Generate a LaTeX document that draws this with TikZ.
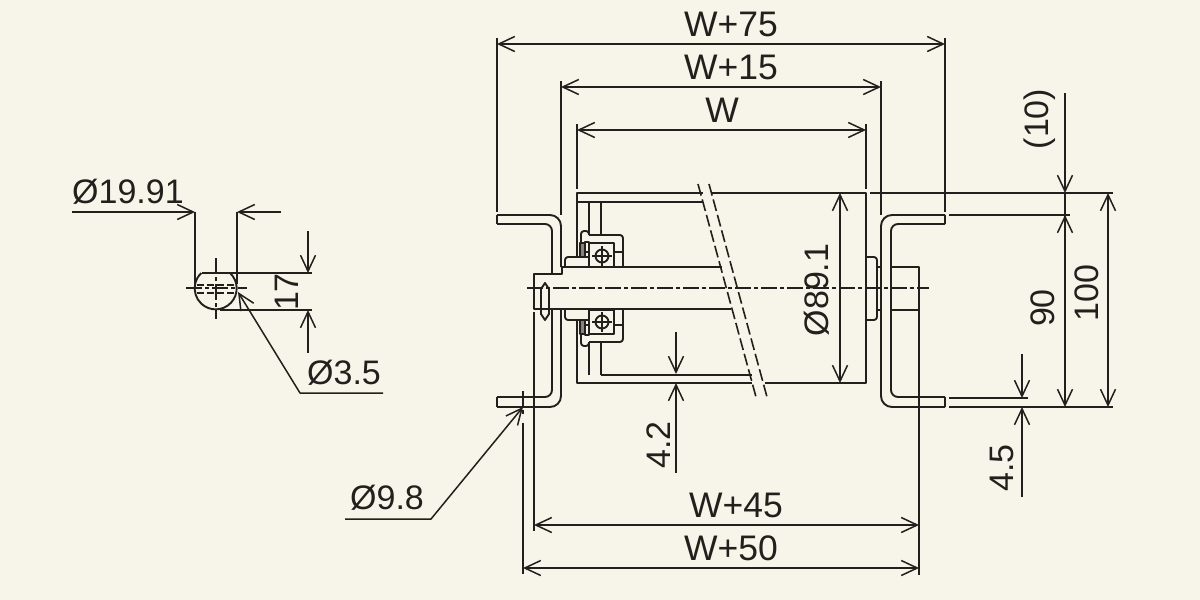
\documentclass[tikz,border=0pt]{standalone}
\usepackage{fontspec}
\setmainfont{Liberation Sans}
\usetikzlibrary{arrows.meta}
\definecolor{paper}{HTML}{F7F4EA}
\definecolor{ink}{HTML}{231F1C}
\tikzset{
  thin line/.style={line width=1.5pt,color=ink},
  part line/.style={line width=1.9pt,color=ink},
  dim line/.style={line width=1.5pt,color=ink,<->},
  lead line/.style={line width=1.5pt,color=ink,->},
  axis line/.style={line width=1.4pt,color=ink,dash pattern=on 16pt off 3pt on 4pt off 3pt},
  hidden line/.style={line width=1.6pt,color=ink,dash pattern=on 12pt off 4pt},
  dim text/.style={inner sep=0pt,color=ink,font=\fontsize{34}{36}\selectfont},
  wide text/.style={inner sep=0pt,color=ink,font=\fontsize{35.5}{38}\selectfont}
}
\begin{document}
\begin{tikzpicture}[line cap=butt,line join=round,>={Straight Barb[length=16pt,width=15pt]},x=1pt,y=-1pt]
\fill [paper] (0,0) rectangle (1200,600);
\useasboundingbox (0,0) rectangle (1200,600);
% brackets
\draw [part line,rounded corners=11pt] (497,215)-- (561,215)-- (561,267);
\draw [part line,rounded corners=11pt] (561,309)-- (561,407)-- (497,407);
\draw [part line,rounded corners=7pt] (497,224)-- (552,224)-- (552,274);
\draw [part line,rounded corners=7pt] (552,309)-- (552,397)-- (497,397);
\draw [part line] (497,215)-- (497,224);
\draw [part line] (497,397)-- (497,407);
\draw [part line,rounded corners=11pt] (945,215)-- (881,215)-- (881,407)-- (945,407);
\draw [part line,rounded corners=7pt] (945,224)-- (891,224)-- (891,397)-- (945,397);
\draw [part line] (945,215)-- (945,224);
\draw [part line] (945,397)-- (945,407);
% roller body
\draw [part line] (577,257)-- (577,193)-- (703,193);
\draw [part line] (577,320)-- (577,383)-- (752,383);
\draw [part line] (712,193)-- (866,193)-- (866,383)-- (765,383);
\draw [part line] (577,202)-- (703,202);
\draw [part line] (601,375)-- (752,375);
\draw [hidden line] (698,184)-- (756,397);
\draw [hidden line] (709,184)-- (767,397);
% upper bearing
\draw [part line] (589,202)-- (589,235);
\draw [part line] (601,202)-- (601,235);
\draw [part line,rounded corners=3pt] (589,235)-- (589,231)-- (581,231)-- (581,244);
\draw [part line,rounded corners=3pt] (589,235)-- (623,235)-- (623,267);
\draw [part line] (589,243) rectangle (614,267);
\draw [part line] (602,256) circle (6.5);
\draw [thin line] (592,256)-- (612,256);
\draw [thin line] (602,246)-- (602,266);
\draw [part line,fill=ink!55] (580,243) rectangle (585,257);
\draw [part line] (585,242) rectangle (589,252);
\draw [part line,rounded corners=3pt] (589,257)-- (565,257)-- (565,267);
\draw [part line] (614,252)-- (623,252);
% lower bearing
\draw [part line] (589,375)-- (589,342);
\draw [part line] (601,375)-- (601,342);
\draw [part line,rounded corners=3pt] (589,342)-- (589,346)-- (581,346)-- (581,333);
\draw [part line,rounded corners=3pt] (589,342)-- (623,342)-- (623,310);
\draw [part line] (589,310) rectangle (614,334);
\draw [part line] (602,322) circle (6.5);
\draw [thin line] (592,322)-- (612,322);
\draw [thin line] (602,312)-- (602,332);
\draw [part line,fill=ink!55] (580,320) rectangle (585,334);
\draw [part line] (585,325) rectangle (589,335);
\draw [part line,rounded corners=3pt] (589,320)-- (565,320)-- (565,310);
\draw [part line] (614,325)-- (623,325);
% shaft
\draw [part line] (722,267)-- (562,267)-- (562,274)-- (534,274)-- (534,309)-- (731,309);
\draw [part line] (545,283)-- (549,289)-- (549,314)-- (545,320)-- (541,314)-- (541,289)-- cycle;
\draw [part line,rounded corners=3pt] (866,257)-- (877,257)-- (877,320)-- (866,320);
\draw [part line] (877,267)-- (881,267);
\draw [part line] (877,310)-- (881,310);
\draw [part line] (891,267)-- (919,267)-- (919,310)-- (891,310);
\draw [axis line] (527,288)-- (929,288);
% extension lines
\draw [thin line] (497,38)-- (497,212);
\draw [thin line] (945,38)-- (945,212);
\draw [thin line] (561,81)-- (561,215);
\draw [thin line] (881,81)-- (881,215);
\draw [thin line] (577,124)-- (577,189);
\draw [thin line] (866,124)-- (866,189);
\draw [thin line] (870,193)-- (1113,193);
\draw [thin line] (949,215)-- (1070,215);
\draw [thin line] (949,398)-- (1028,398);
\draw [part line] (949,407)-- (1113,407);
\draw [thin line] (534,312)-- (534,531);
\draw [thin line] (523,423)-- (523,574);
\draw [axis line] (523,391)-- (523,416);
\draw [thin line] (919,310)-- (919,575);
% dimensions
\draw [dim line] (497,44)-- (945,44);
\draw [dim line] (561,87)-- (881,87);
\draw [dim line] (577,130)-- (866,130);
\draw [dim line] (840,193)-- (840,383);
\draw [dim line] (534,525)-- (919,525);
\draw [dim line] (523,568)-- (919,568);
\draw [dim line] (1065,215)-- (1065,407);
\draw [dim line] (1108,193)-- (1108,407);
\draw [lead line] (1065,93)-- (1065,193);
\draw [part line] (1065,193)-- (1065,257);
\draw [lead line] (1022,354)-- (1022,398);
\draw [lead line] (1022,497)-- (1022,407);
\draw [lead line] (676,332)-- (676,374);
\draw [lead line] (676,473)-- (676,383);
\draw [lead line] (345,519)-- (431,519)-- (523,407);
% shaft end detail
\draw [part line] (202,273)-- (230,273) arc (-47:227:21 and 21);
\draw [thin line] (195,212)-- (195,284);
\draw [thin line] (237,212)-- (237,284);
\draw [lead line] (72,212)-- (195,212);
\draw [lead line] (281,212)-- (237,212);
\draw [axis line] (216,258)-- (216,319);
\draw [axis line] (186,288)-- (247,288);
\draw [hidden line,dash pattern=on 7pt off 3pt] (197,285)-- (236,285);
\draw [hidden line,dash pattern=on 7pt off 3pt] (197,293)-- (236,293);
\draw [thin line] (230,273)-- (312,273);
\draw [thin line] (220,310)-- (312,310);
\draw [lead line] (308,231)-- (308,273);
\draw [lead line] (308,353)-- (308,310);
\draw [lead line] (383,393)-- (300,393)-- (238,292);
% labels
\node [wide text] (w75) at (731,24) {W+75};
\node [wide text] (w15) at (731,67) {W+15};
\node [wide text] (w0) at (722,110) {W};
\node [wide text] (w45) at (736,505) {W+45};
\node [wide text] (w50) at (731,548) {W+50};
\node [dim text,rotate=90] (d891) at (817,290) {Ø89.1};
\node [dim text,rotate=90] (h10) at (1040,119) {(10)};
\node [dim text,rotate=90] (h90) at (1043,308) {90};
\node [dim text,rotate=90] (h100) at (1087,293) {100};
\node [dim text,rotate=90] (h45) at (1002,468) {4.5};
\node [dim text,rotate=90] (h42) at (659,445) {4.2};
\node [dim text,rotate=90] (h17) at (287,292) {17};
\node [dim text] (d98) at (387,498) {Ø9.8};
\node [dim text] (d1991) at (128,192) {Ø19.91};
\node [dim text] (d35) at (344,373) {Ø3.5};
\end{tikzpicture}
\end{document}
